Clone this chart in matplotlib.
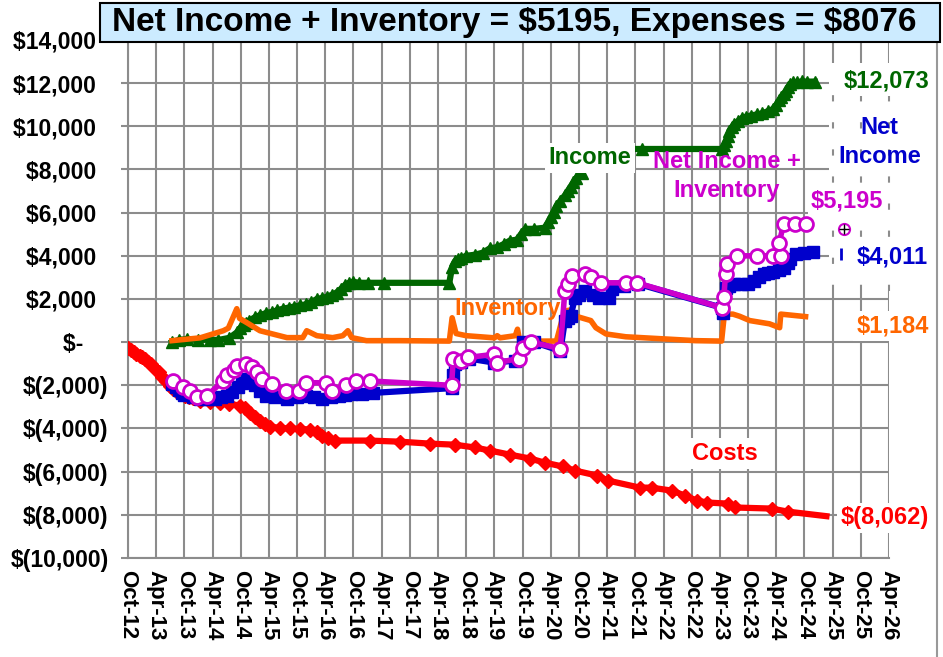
import matplotlib
matplotlib.use("Agg")
import matplotlib.pyplot as plt
from matplotlib.patches import Rectangle
from matplotlib.lines import Line2D

# ---------------- data (x = fractional year, y = dollars) ----------------
costs_x = [2012.75, 2012.8, 2012.85, 2012.9, 2012.96, 2013.0, 2013.05, 2013.1, 2013.15, 2013.23,
           2013.3, 2013.35, 2013.42, 2013.49, 2013.55, 2013.6, 2013.68, 2013.76, 2013.83,
           2013.9, 2014.03, 2014.2, 2014.38, 2014.55, 2014.73, 2014.82, 2014.91, 2015.0, 2015.09,
           2015.18, 2015.27, 2015.45, 2015.62, 2015.8, 2015.98, 2016.1, 2016.19, 2016.3, 2016.42,
           2017.04, 2017.57, 2018.10, 2018.55, 2018.90, 2019.17, 2019.52, 2019.88, 2020.14, 2020.46,
           2020.68, 2021.07, 2021.26, 2021.83, 2022.04, 2022.40, 2022.63, 2022.84, 2023.03, 2023.39,
           2023.51, 2024.17, 2024.45, 2025.14]
costs_y = [-250, -350, -450, -550, -625, -700, -800, -900, -1000, -1230,
           -1400, -1600, -1800, -2010, -2150, -2250, -2350, -2480, -2550,
           -2600, -2710, -2750, -2800, -2850, -2940, -3050, -3260, -3450, -3630,
           -3800, -3910, -3980, -4000, -4020, -4050, -4150, -4330, -4450, -4560,
           -4560, -4610, -4700, -4750, -4880, -5020, -5210, -5390, -5580, -5760,
           -5950, -6180, -6410, -6740, -6740, -6880, -7110, -7340, -7430, -7480,
           -7660, -7710, -7850, -8062]

income_x = [2013.53, 2013.65, 2013.8, 2014.0, 2014.2, 2014.35, 2014.55, 2014.68, 2014.74, 2014.8,
            2014.85, 2014.9, 2015.0, 2015.09, 2015.2, 2015.3, 2015.4, 2015.5, 2015.6, 2015.7,
            2015.8, 2015.9, 2016.0, 2016.1, 2016.2, 2016.28, 2016.37, 2016.45, 2016.52, 2016.6,
            2016.67, 2016.74, 2016.85, 2017.0, 2017.3, 2018.45, 2018.5, 2018.55, 2018.6, 2018.65,
            2018.75, 2018.9, 2019.05, 2019.17, 2019.3, 2019.42, 2019.52, 2019.65, 2019.72, 2019.8,
            2019.95, 2020.14, 2020.2, 2020.25, 2020.3, 2020.35, 2020.42, 2020.5, 2020.55, 2020.6,
            2020.65, 2020.7, 2020.8, 2020.95, 2021.1, 2021.86, 2023.28, 2023.32, 2023.35, 2023.39,
            2023.42, 2023.46, 2023.5, 2023.58, 2023.65, 2023.72, 2023.8, 2023.9, 2024.0, 2024.1,
            2024.19, 2024.25, 2024.3, 2024.34, 2024.38, 2024.42, 2024.45, 2024.5, 2024.55, 2024.62,
            2024.7, 2024.8, 2024.93]
income_y = [0, 100, 150, 100, 120, 100, 200, 450, 650, 800,
            900, 1000, 1150, 1250, 1350, 1400, 1480, 1550, 1600, 1650,
            1700, 1750, 1850, 2000, 2050, 2100, 2200, 2300, 2450, 2650,
            2750, 2800, 2750, 2750, 2750, 2750, 3500, 3750, 3850, 3900,
            4000, 4050, 4150, 4350, 4400, 4550, 4700, 4750, 5000, 5250,
            5250, 5300, 5550, 5800, 6050, 6300, 6550, 6800, 7000, 7200,
            7400, 7600, 7850, 8500, 8950, 8950, 8950, 9150, 9300, 9550,
            9800, 9950, 10100, 10250, 10400, 10450, 10500, 10550, 10600, 10700,
            10800, 11000, 11200, 11350, 11500, 11650, 11800, 11950, 12050, 12050,
            12080, 12070, 12073]

inventory_x = [2013.53, 2014.03, 2014.44, 2014.53, 2014.68, 2014.73, 2014.86, 2015.09, 2015.57, 2015.85,
               2015.92, 2016.1, 2016.38, 2016.56, 2016.65, 2016.72, 2016.98, 2017.57, 2018.45, 2018.5,
               2018.57, 2018.75, 2019.25, 2019.3, 2019.35, 2019.62, 2019.66, 2019.7, 2020.35, 2020.46,
               2020.53, 2020.62, 2020.7, 2020.96, 2021.05, 2021.23, 2021.58, 2022.82, 2023.28, 2023.33,
               2023.48, 2023.6, 2023.78, 2024.13, 2024.31, 2024.33, 2024.77]
inventory_y = [70, 200, 530, 650, 1550, 1100, 900, 530, 210, 210,
               530, 300, 210, 300, 530, 210, 70, 70, 50, 1130,
               400, 300, 200, 300, 200, 300, 600, 50, 50, 1130,
               1460, 1500, 1200, 1000, 670, 380, 250, 70, 50, 1300,
               1300, 1200, 1000, 850, 670, 1300, 1184]

net_x = [2013.53, 2013.6, 2013.65, 2013.7, 2013.75, 2013.9, 2014.03, 2014.15, 2014.3, 2014.4,
         2014.5, 2014.6, 2014.7, 2014.78, 2014.86, 2014.93, 2015.0, 2015.1, 2015.2, 2015.35,
         2015.57, 2015.75, 2015.9, 2016.05, 2016.2, 2016.35, 2016.5, 2016.6, 2016.7, 2016.9,
         2017.1, 2018.49, 2018.52, 2018.55, 2018.65, 2018.8, 2019.25, 2019.62, 2019.75, 2019.95,
         2020.42, 2020.5, 2020.55, 2020.6, 2020.68, 2020.75, 2020.85, 2021.0, 2021.1, 2021.28,
         2021.33, 2021.55, 2021.8, 2023.28, 2023.3, 2023.35, 2023.42, 2023.5, 2023.62, 2023.74,
         2023.86, 2023.95, 2024.03, 2024.1, 2024.2, 2024.3, 2024.38, 2024.45, 2024.5, 2024.6,
         2024.75, 2024.9]
net_y = [-1950, -2100, -2200, -2350, -2450, -2550, -2620, -2620, -2620, -2550,
         -2480, -2300, -2100, -1900, -1700, -1850, -2000, -2250, -2480, -2550,
         -2620, -2550, -2480, -2550, -2620, -2550, -2480, -2450, -2400, -2380,
         -2350, -2130, -1500, -1000, -900, -760, -950, -850, 0, 0,
         -400, 1000, 1100, 1200, 2050, 2200, 2380, 2200, 2050, 2050,
         2470, 2600, 2700, 1600, 1360, 2520, 2600, 2700, 2700, 2700,
         2840, 3000, 3170, 3200, 3250, 3350, 3450, 3650, 3860, 4100,
         4150, 4200]

netinv_x = [2013.55, 2013.72, 2013.85, 2013.98, 2014.15, 2014.43, 2014.5, 2014.63, 2014.68, 2014.84,
            2014.95, 2015.04, 2015.13, 2015.3, 2015.55, 2015.78, 2015.9, 2016.26, 2016.37, 2016.62,
            2016.8, 2017.05, 2018.49, 2018.52, 2018.65, 2018.78, 2019.25, 2019.3, 2019.68, 2019.75,
            2019.9, 2020.42, 2020.5, 2020.56, 2020.62, 2020.85, 2020.97, 2021.14, 2021.58, 2021.78,
            2023.28, 2023.32, 2023.35, 2023.38, 2023.55, 2023.9, 2024.2, 2024.33, 2024.3, 2024.38,
            2024.58, 2024.78]
netinv_y = [-1800, -2100, -2250, -2560, -2500, -1800, -1500, -1300, -1100, -1000,
            -1150, -1400, -1700, -1950, -2250, -2250, -1880, -1880, -2250, -2000,
            -1800, -1800, -2000, -770, -850, -710, -560, -950, -760, -250,
            0, -300, 2380, 2700, 3080, 3160, 3000, 2750, 2750, 2750,
            1600, 2100, 3160, 3630, 4000, 4000, 4000, 4000, 4580, 5470,
            5470, 5470]

extra_netinv = (2025.46, 5255)
extra_net = (2025.39, 4100)

x_ticks = [2012.75 + 0.5 * i for i in range(28)]
x_tick_labels = ["Oct-12", "Apr-13", "Oct-13", "Apr-14", "Oct-14", "Apr-15", "Oct-15", "Apr-16",
                 "Oct-16", "Apr-17", "Oct-17", "Apr-18", "Oct-18", "Apr-19", "Oct-19", "Apr-20",
                 "Oct-20", "Apr-21", "Oct-21", "Apr-22", "Oct-22", "Apr-23", "Oct-23", "Apr-24",
                 "Oct-24", "Apr-25", "Oct-25", "Apr-26"]
y_ticks = [-10000, -8000, -6000, -4000, -2000, 0, 2000, 4000, 6000, 8000, 10000, 12000, 14000]
y_tick_labels = ["$(10,000)", "$(8,000)", "$(6,000)", "$(4,000)", "$(2,000)", "$-    ",
                 "$2,000  ", "$4,000  ", "$6,000  ", "$8,000  ", "$10,000  ", "$12,000  ", "$14,000  "]

title = "Net Income + Inventory = \\$5195, Expenses = \\$8076"

# ---------------- styling ----------------
GREEN = "#006600"
RED = "#FF0000"
ORANGE = "#FF6600"
BLUE = "#0000CC"
MAGENTA = "#CC00CC"
GRID = "#8c8c8c"
FONT = ["Liberation Sans", "DejaVu Sans"]

W, H = 943, 657
fig = plt.figure(figsize=(W / 100, H / 100), dpi=100)
ax = fig.add_axes([128 / W, 1 - 558 / H, (889 - 128) / W, (558 - 40) / H])
ax.set_xlim(2012.75, 2026.25)
ax.set_ylim(-10000, 14000)

ax.set_xticks(x_ticks)
ax.set_xticklabels(x_tick_labels, rotation=-90, ha="center", va="top",
                   fontsize=16, fontweight="bold", family=FONT)
ax.set_yticks(y_ticks)
ax.set_yticklabels(y_tick_labels, fontsize=16.5, fontweight="bold", family=FONT)
ax.tick_params(axis="x", length=0, pad=9)
ax.tick_params(axis="y", length=5, width=1.5, color=GRID, pad=9)
ax.grid(True, color=GRID, lw=1.5, zorder=0)
ax.set_axisbelow(True)
for s in ["top", "right"]:
    ax.spines[s].set_visible(False)
for s in ["left", "bottom"]:
    ax.spines[s].set_color(GRID)
    ax.spines[s].set_linewidth(1.5)

# white area at the right with broken gridlines (as in the reference)
ax.add_patch(Rectangle((2025.19, 2380), 1.1, 10560, fc="white", ec="none", zorder=0.6,
                       clip_on=False))
for gx in [2025.25, 2025.75, 2026.25]:
    ax.plot([gx, gx], [2380, 11600], color=GRID, lw=1.5, dashes=(3, 10), zorder=0.7,
            clip_on=False)

# series
ax.plot(income_x, income_y, color=GREEN, lw=4.5, marker="^", ms=9, mec=GREEN, zorder=3)
ax.plot(inventory_x, inventory_y, color=ORANGE, lw=4, zorder=4)
ax.plot(costs_x[:-1], costs_y[:-1], color=RED, lw=4.5, marker="D", ms=7.5, mec=RED, zorder=4)
ax.plot(costs_x[-2:], costs_y[-2:], color=RED, lw=4.5, zorder=4)
ax.plot(net_x, net_y, color=BLUE, lw=4.5, marker="s", ms=8, mec=BLUE, zorder=5)
ax.plot(netinv_x, netinv_y, color=MAGENTA, lw=4, marker="o", ms=10, mfc="white",
        mec=MAGENTA, mew=2, zorder=6)
ax.plot([extra_netinv[0]], [extra_netinv[1]], marker="o", ms=8, mfc="white", mec=MAGENTA,
        mew=1.5, clip_on=False, zorder=6)
ax.plot([extra_netinv[0]], [extra_netinv[1]], marker="+", ms=7, color="black", mew=1,
        clip_on=False, zorder=7)
ax.plot([extra_net[0]], [extra_net[1]], marker="|", ms=9, color=BLUE, mew=2,
        clip_on=False, zorder=6)

# labels
wb = dict(boxstyle="square,pad=0.15", fc="white", ec="none")
lab = dict(fontsize=17, fontweight="bold", family=FONT, ha="center", va="center", zorder=10)
ax.text(2020.94, 8540, "Income", color=GREEN, bbox=wb, **lab)
ax.text(2023.37, 7700, "Net Income +\nInventory", color=MAGENTA, linespacing=1.3, **lab)
ax.text(2019.49, 1550, "Inventory", color=ORANGE, **lab)
ax.text(2023.34, -5160, "Costs", color=RED, bbox=wb, **lab)
ax.text(2026.21, 12110, "$12,073", color=GREEN, bbox=wb, **lab)
ax.text(2026.08, 9280, "Net\nIncome", color=BLUE, linespacing=1.3, **lab)
ax.text(2025.51, 6550, "$5,195", color=MAGENTA, bbox=wb, **lab)
ax.text(2026.31, 3960, "$4,011", color=BLUE, bbox=wb, **lab)
ax.text(2026.31, 760, "$1,184", color=ORANGE, bbox=wb, **lab)
ax.text(2026.17, -8130, "$(8,062)", color=RED, bbox=wb, **lab)

# title box
fig.add_artist(Rectangle((100 / W, 1 - 42 / H), 840 / W, 39 / H, transform=fig.transFigure,
                         fc="#CCEBFF", ec="black", lw=1.5, zorder=20))
fig.text(514 / W, 1 - 23 / H, title, ha="center", va="center", fontsize=24, fontweight="bold",
         family=["Liberation Sans", "DejaVu Sans"], zorder=21)

# chart border on the right
fig.add_artist(Line2D([937 / W, 937 / W], [0, 1 - 3 / H], transform=fig.transFigure,
                      color="#999999", lw=1.5))

fig.savefig("out.png", dpi=100)
